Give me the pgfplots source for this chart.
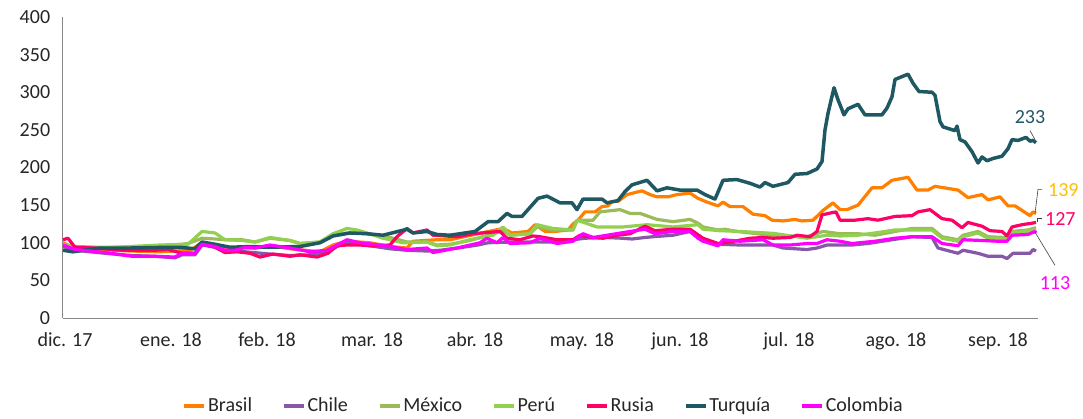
\documentclass[border=0pt]{standalone}
\usepackage{fontspec}
\setmainfont{Carlito}
\usepackage{pgfplots}
\pgfplotsset{compat=1.18}
\definecolor{cBrasil}{RGB}{255,128,0}
\definecolor{cChile}{RGB}{134,88,168}
\definecolor{cMexico}{RGB}{155,187,89}
\definecolor{cPeru}{RGB}{146,208,80}
\definecolor{cRusia}{RGB}{255,0,102}
\definecolor{cTurquia}{RGB}{30,88,98}
\definecolor{cColombia}{RGB}{255,0,255}
\definecolor{cGold}{RGB}{255,192,0}
\definecolor{cText}{RGB}{38,38,38}
\definecolor{cAxis}{RGB}{134,134,134}
\begin{document}
\fontsize{20bp}{24bp}\selectfont
\begin{tikzpicture}
\path[use as bounding box] (-63bp,-101bp) rectangle (1020bp,318bp);
\begin{axis}[
  at={(0,0)}, anchor=south west,
  scale only axis, width=975bp, height=301bp,
  xmin=0, xmax=975, ymin=0, ymax=400,
  ytick={0,50,...,400},
  xtick={2,108,204,309,412,519,617,726,833,935},
  xticklabels={dic. 17,ene. 18,feb. 18,mar. 18,abr. 18,may. 18,jun. 18,jul. 18,ago. 18,sep. 18},
  axis x line*=bottom, axis y line*=left,
  axis line style={-, draw=cAxis, line width=1bp},
  major tick length=0pt,
  tick label style={text=cText, font=\fontsize{20bp}{24bp}\selectfont},
  /pgf/number format/assume math mode=true,
  xticklabel style={yshift=-8bp},
  yticklabel style={xshift=-6bp},
  clip=false,
  legend style={at={(0.493,-0.292)}, anchor=center, draw=none, fill=none,
    legend columns=7, font=\fontsize{20bp}{24bp}\selectfont, text=cText,
    /tikz/every even column/.append style={column sep=28bp}},
  legend image code/.code={\draw[#1, line width=3.5bp] (0bp,0bp) -- (20bp,0bp);},
  every axis plot/.append style={line width=3.2bp, line join=round, mark=none},
]
\addplot[cBrasil] coordinates {(0,100)(12,93)(37,91)(67,89)(97,88)(127,90)(139,100)(152,97)(167,93)(192,93)(207,96)(227,92)(257,88)(270,97)(284,102)(307,100)(327,95)(344,93)(350,102)(374,104)(387,104)(415,112)(440,119)(449,113)(465,115)(472,124)(482,115)(492,115)(505,117)(510,125)(515,130)(522,141)(532,141)(539,148)(545,149)(549,155)(555,155)(564,164)(579,169)(587,164)(594,161)(605,161)(614,164)(627,166)(635,159)(644,154)(655,149)(660,154)(667,148)(680,148)(690,138)(702,136)(709,130)(720,129)(732,131)(739,129)(750,130)(760,143)(770,153)(777,144)(784,144)(795,150)(809,173)(819,173)(829,183)(845,187)(854,170)(865,170)(872,175)(895,170)(905,160)(919,164)(925,157)(937,161)(945,149)(952,149)(959,143)(967,136)(970,141)(973,139)};
\addlegendentry{Brasil}
\addplot[cChile] coordinates {(0,95)(12,90)(42,86)(69,83)(92,82)(112,80)(119,84)(132,84)(139,97)(152,94)(162,89)(182,88)(207,85)(227,83)(247,84)(264,87)(274,95)(284,100)(297,98)(327,92)(344,90)(364,89)(377,90)(400,94)(415,97)(425,100)(449,101)(470,101)(492,101)(522,106)(542,107)(559,106)(569,105)(582,107)(590,108)(610,110)(627,115)(640,104)(655,98)(677,97)(710,97)(720,93)(744,91)(754,93)(764,97)(777,97)(789,97)(805,99)(829,104)(849,108)(869,107)(875,93)(895,86)(900,90)(915,86)(925,82)(939,82)(944,79)(950,86)(967,86)(970,91)(973,89)};
\addlegendentry{Chile}
\addplot[cMexico] coordinates {(0,97)(12,95)(37,94)(67,94)(97,96)(112,97)(125,99)(139,106)(152,105)(162,104)(179,104)(192,101)(207,106)(227,103)(237,99)(257,101)(270,110)(284,113)(297,113)(310,111)(327,107)(344,101)(364,101)(374,97)(387,98)(407,103)(430,112)(440,116)(447,110)(467,112)(474,121)(490,117)(510,117)(514,130)(530,130)(537,141)(557,144)(567,139)(577,139)(594,131)(610,128)(627,131)(635,126)(640,121)(655,117)(662,118)(674,115)(694,112)(710,109)(744,108)(760,115)(777,112)(795,112)(812,110)(832,115)(849,119)(869,119)(879,108)(895,104)(900,110)(915,115)(925,108)(942,107)(949,115)(965,117)(973,120)};
\addlegendentry{México}
\addplot[cPeru] coordinates {(0,98)(12,94)(37,93)(67,95)(97,97)(125,98)(139,115)(152,113)(162,104)(179,103)(192,101)(207,107)(227,103)(237,99)(257,101)(270,112)(284,119)(294,117)(304,113)(320,106)(340,100)(364,101)(374,96)(387,97)(407,104)(430,110)(440,121)(447,110)(467,112)(474,124)(490,119)(510,117)(514,130)(534,121)(560,121)(584,124)(610,121)(635,124)(640,118)(657,116)(677,115)(710,112.5)(744,106)(764,110)(777,109)(795,110)(812,113)(832,117)(849,117)(869,117)(879,106)(895,102)(900,108)(915,113)(925,106)(942,105)(949,113)(965,115)(973,117)};
\addlegendentry{Perú}
\addplot[cRusia] coordinates {(0,104)(5,106)(12,94)(32,93)(59,90)(72,90)(92,90)(105,91)(119,86)(132,86)(139,99)(152,94)(162,87)(174,88)(187,86)(197,81)(210,85)(227,82)(237,84)(254,81)(265,86)(274,96)(284,97)(297,97)(307,96)(327,97)(334,108)(344,119)(350,113)(364,117)(370,110)(394,108)(410,112)(437,115)(444,106)(457,104)(470,109)(477,108)(494,104)(510,104)(517,110)(530,107)(540,106)(554,110)(567,112)(582,122)(592,116)(610,118)(627,118)(640,106)(655,99)(667,101)(687,106)(700,107)(710,106)(727,107)(734,110)(747,108)(754,115)(759,137)(769,140)(773,141)(777,130)(792,130)(805,132)(815,130)(832,135)(849,136)(855,141)(867,144)(879,132)(889,130)(899,120)(905,127)(919,122)(927,116)(939,115)(944,109)(949,121)(959,124)(969,126)(973,127)};
\addlegendentry{Rusia}
\addplot[cTurquia, line width=3.5bp] coordinates {(0,90)(10,88)(37,93)(67,93)(107,94)(117,94)(132,92)(139,101)(152,98)(167,94)(187,95)(205,94)(237,95)(257,100)(270,109)(287,113)(304,112)(320,110)(344,118)(350,113)(364,115)(374,111)(387,110)(412,115)(425,128)(435,128)(444,139)(449,135)(459,135)(465,144)(475,159)(484,162)(497,153)(509,153)(514,144)(520,158)(539,158)(544,153)(555,156)(562,168)(569,177)(584,183)(594,169)(604,173)(617,170)(634,170)(642,164)(652,158)(660,183)(674,184)(687,179)(697,174)(702,180)(710,175)(725,180)(732,191)(744,192)(754,198)(759,208)(762,250)(765,272)(771,306)(775,290)(781,270)(785,278)(795,284)(802,270)(819,270)(824,279)(829,294)(832,317)(845,324)(850,312)(856,301)(869,300)(872,296)(877,261)(880,254)(892,249)(894,255)(897,237)(902,234)(909,221)(915,206)(919,214)(924,209)(930,212)(939,215)(945,225)(949,237)(955,236)(963,240)(967,235)(970,236)(973,233)};
\addlegendentry{Turquía}
\addplot[cColombia] coordinates {(0,97)(12,91)(42,87)(69,82)(92,82)(112,81)(119,86)(132,86)(139,98)(152,95)(162,90)(172,90)(182,94)(192,93)(207,97)(227,93)(247,88)(264,90)(274,97)(284,104)(297,100)(327,95)(344,91)(364,93)(370,87)(394,93)(417,100)(424,106)(434,100)(440,107)(447,99)(467,100)(477,106)(494,99)(510,102)(520,112)(530,107)(544,110)(567,115)(582,118)(592,112)(610,115)(627,115)(635,106)(640,102)(655,96)(660,104)(677,102)(700,104)(710,97)(727,97)(744,99)(754,99)(764,104)(777,102)(789,99)(812,102)(832,106)(849,108)(869,108)(879,99)(895,96)(900,104)(919,103)(935,102)(944,102)(949,110)(965,111)(972,115)(973,113)};
\addlegendentry{Colombia}
% value labels
\draw[black!75, line width=0.6bp] (axis cs:967,249) -- (axis cs:972,237);
\node[text=cTurquia, font=\fontsize{20bp}{24bp}\selectfont] at (axis cs:967,267) {233};
\draw[black!75, line width=0.6bp] (axis cs:972,139) -- (axis cs:975,171) -- (axis cs:979,171);
\node[anchor=west, text=cGold, inner sep=0pt, font=\fontsize{20bp}{24bp}\selectfont] at (axis cs:985,170) {139};
\draw[black!75, line width=0.6bp] (axis cs:974,128) -- (axis cs:974,132.5) -- (axis cs:979,132.5);
\node[anchor=west, text=cRusia, inner sep=0pt, font=\fontsize{20bp}{24bp}\selectfont] at (axis cs:982,131.6) {127};
\draw[black!75, line width=0.6bp] (axis cs:972,114) -- (axis cs:992,70);
\node[text=cColombia, font=\fontsize{20bp}{24bp}\selectfont] at (axis cs:992,46.5) {113};
\end{axis}
\end{tikzpicture}
\end{document}
